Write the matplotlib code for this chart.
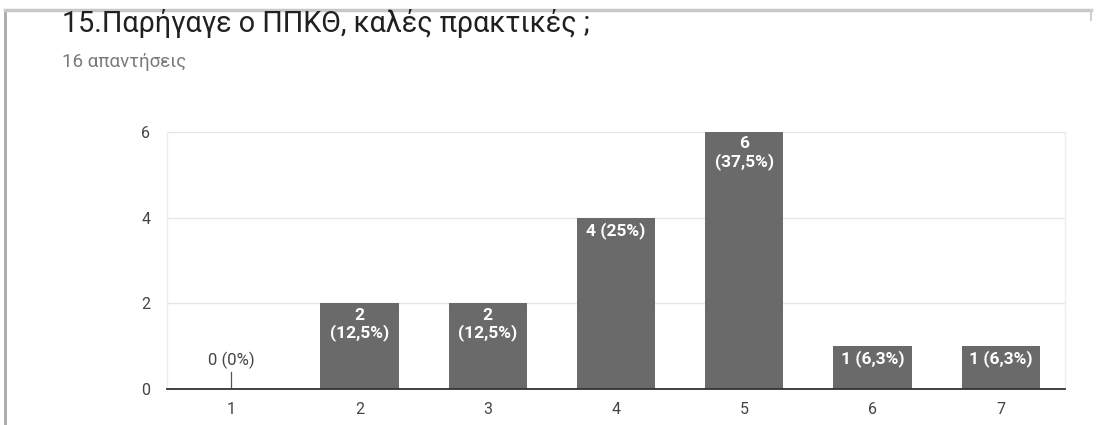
import matplotlib
matplotlib.use("Agg")
import matplotlib.pyplot as plt
from matplotlib.lines import Line2D

categories = ["1", "2", "3", "4", "5", "6", "7"]
counts = [0, 2, 2, 4, 6, 1, 1]
bar_labels = ["0 (0%)", "2\n(12,5%)", "2\n(12,5%)", "4 (25%)", "6\n(37,5%)", "1 (6,3%)", "1 (6,3%)"]
yticks = [0, 2, 4, 6]
title = "15.Παρήγαγε ο ΠΠΚΘ, καλές πρακτικές ;"
subtitle = "16 απαντήσεις"

plt.rcParams['font.family'] = ['Roboto', 'DejaVu Sans']

W, H = 1097, 425
fig = plt.figure(figsize=(W / 100, H / 100), dpi=100)
fig.patch.set_facecolor("white")

# card border
fig.add_artist(Line2D([5 / W, 5 / W], [0, 1 - 10 / H], color="#a8a8a8", lw=2.0, transform=fig.transFigure))
fig.add_artist(Line2D([5 / W, 1 - 6 / W], [1 - 10 / H, 1 - 10 / H], color="#c8c8c8", lw=2.5, transform=fig.transFigure))
fig.add_artist(Line2D([1 - 6 / W, 1 - 6 / W], [1 - 10 / H, 1 - 20 / H], color="#d0d0d0", lw=1.5, transform=fig.transFigure))

fig.text(62 / W, 1 - 24 / H, title, fontsize=20.7, color="#202020", va="center", ha="left")
fig.text(62 / W, 1 - 62 / H, subtitle, fontsize=13.5, color="#7a7a7a", va="center", ha="left")

left, right = 167 / W, 1065 / W
bottom, top = 1 - 389 / H, 1 - 132 / H
ax = fig.add_axes([left, bottom, right - left, top - bottom])

x = list(range(1, len(categories) + 1))
bar_color = "#6a6a6a"
ax.bar(x, counts, width=0.61, color=bar_color, zorder=3)

for xi, c, lab in zip(x, counts, bar_labels):
    if c == 0:
        ax.plot([xi, xi], [0, 0.4], color="#555555", lw=0.9, zorder=4)
        ax.text(xi, 0.47, lab, ha="center", va="bottom", fontsize=12, color="#444444", zorder=5)
    else:
        ax.text(xi, c - 0.1, lab, ha="center", va="top", fontsize=12.5, color="white",
                fontweight="bold", linespacing=1.1, zorder=5)

ax.set_xlim(0.5, 7.5)
ax.set_ylim(0, 6)
ax.set_xticks(x)
ax.set_xticklabels(categories)
ax.set_yticks(yticks)
ax.tick_params(axis="both", length=0, labelsize=11.5, labelcolor="#444444")
ax.tick_params(axis="x", pad=9)
ax.tick_params(axis="y", pad=12)
ax.grid(axis="y", color="#e6e6e6", lw=1.0, zorder=0)
ax.spines["top"].set_visible(False)
for s in ["left", "right"]:
    ax.spines[s].set_color("#ededed")
    ax.spines[s].set_linewidth(1.0)
ax.spines["bottom"].set_color("#333333")
ax.spines["bottom"].set_linewidth(1.3)
ax.spines["bottom"].set_zorder(6)

fig.savefig("out.png", dpi=100, facecolor="white")
